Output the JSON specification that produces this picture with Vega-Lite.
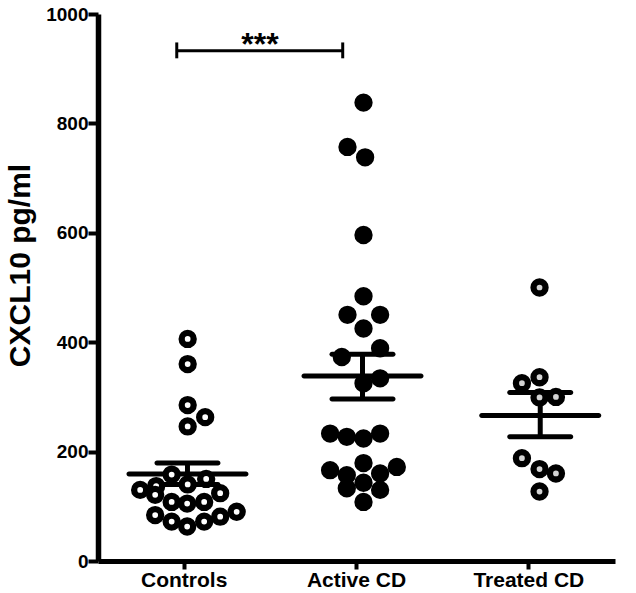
{
  "$schema": "https://vega.github.io/schema/vega-lite/v6.json",
  "width": 517,
  "height": 547,
  "autosize": "none",
  "padding": {"left": 98, "top": 14, "right": 21, "bottom": 32},
  "background": "white",
  "config": {
    "view": {"stroke": null},
    "font": "Liberation Sans",
    "axis": {
      "grid": false,
      "domainColor": "black",
      "tickColor": "black",
      "labelColor": "black",
      "titleColor": "black",
      "labelFont": "Liberation Sans",
      "titleFont": "Liberation Sans",
      "labelFontWeight": "bold",
      "titleFontWeight": "bold"
    }
  },
  "datasets": {
    "points": [
      {"group": "Controls", "value": 406, "jitter": 3.5},
      {"group": "Controls", "value": 360, "jitter": 3.5},
      {"group": "Controls", "value": 285, "jitter": 3.5},
      {"group": "Controls", "value": 263, "jitter": 21},
      {"group": "Controls", "value": 246, "jitter": 3.5},
      {"group": "Controls", "value": 158, "jitter": -12.5},
      {"group": "Controls", "value": 150, "jitter": 22},
      {"group": "Controls", "value": 140, "jitter": 3.5},
      {"group": "Controls", "value": 137, "jitter": -28},
      {"group": "Controls", "value": 130, "jitter": -44},
      {"group": "Controls", "value": 121, "jitter": -29},
      {"group": "Controls", "value": 108, "jitter": -12.5},
      {"group": "Controls", "value": 105, "jitter": 3},
      {"group": "Controls", "value": 108, "jitter": 20},
      {"group": "Controls", "value": 124, "jitter": 36},
      {"group": "Controls", "value": 84, "jitter": -29},
      {"group": "Controls", "value": 72, "jitter": -12.5},
      {"group": "Controls", "value": 63, "jitter": 3},
      {"group": "Controls", "value": 72, "jitter": 20},
      {"group": "Controls", "value": 81, "jitter": 36},
      {"group": "Controls", "value": 90, "jitter": 52.5},
      {"group": "Active CD", "value": 838, "jitter": 7},
      {"group": "Active CD", "value": 757, "jitter": -9},
      {"group": "Active CD", "value": 738, "jitter": 8.6},
      {"group": "Active CD", "value": 596, "jitter": 7},
      {"group": "Active CD", "value": 484, "jitter": 7},
      {"group": "Active CD", "value": 450, "jitter": -9},
      {"group": "Active CD", "value": 450, "jitter": 23.6},
      {"group": "Active CD", "value": 425, "jitter": 7},
      {"group": "Active CD", "value": 389, "jitter": 23.6},
      {"group": "Active CD", "value": 373, "jitter": -14.7},
      {"group": "Active CD", "value": 334, "jitter": 23.6},
      {"group": "Active CD", "value": 325, "jitter": 7},
      {"group": "Active CD", "value": 233, "jitter": -26.4},
      {"group": "Active CD", "value": 227, "jitter": -9.7},
      {"group": "Active CD", "value": 224, "jitter": 7},
      {"group": "Active CD", "value": 233, "jitter": 23.6},
      {"group": "Active CD", "value": 179, "jitter": 7},
      {"group": "Active CD", "value": 166, "jitter": -26.4},
      {"group": "Active CD", "value": 157, "jitter": -9.7},
      {"group": "Active CD", "value": 160, "jitter": 23.6},
      {"group": "Active CD", "value": 172, "jitter": 40.3},
      {"group": "Active CD", "value": 133, "jitter": -9.7},
      {"group": "Active CD", "value": 130, "jitter": 23.6},
      {"group": "Active CD", "value": 143, "jitter": 7},
      {"group": "Active CD", "value": 108, "jitter": 7},
      {"group": "Treated CD", "value": 500, "jitter": 10.7},
      {"group": "Treated CD", "value": 325, "jitter": -6.9},
      {"group": "Treated CD", "value": 336, "jitter": 10.7},
      {"group": "Treated CD", "value": 299, "jitter": 10.7},
      {"group": "Treated CD", "value": 300, "jitter": 27.1},
      {"group": "Treated CD", "value": 188, "jitter": -6.9},
      {"group": "Treated CD", "value": 168, "jitter": 10.7},
      {"group": "Treated CD", "value": 160, "jitter": 27.1},
      {"group": "Treated CD", "value": 127, "jitter": 10.7}
    ],
    "summary": [
      {"group": "Controls", "mean": 159, "lo": 140, "hi": 179, "jitter": 3.3},
      {"group": "Active CD", "mean": 338, "lo": 296, "hi": 378, "jitter": 6},
      {"group": "Treated CD", "mean": 266, "lo": 227, "hi": 308, "jitter": 11.4}
    ],
    "bracket": [
      {"from": "Controls", "to": "Active CD", "y": 933, "ylo": 919, "yhi": 948, "label": "***"}
    ]
  },
  "encoding": {
    "x": {
      "field": "group",
      "type": "nominal",
      "sort": ["Controls", "Active CD", "Treated CD"],
      "scale": {"type": "band", "domain": ["Controls", "Active CD", "Treated CD"], "paddingInner": 0, "paddingOuter": 0},
      "axis": {
        "title": null,
        "labelAngle": 0,
        "labelFontSize": 21,
        "labelPadding": 0,
        "tickSize": 8,
        "tickWidth": 4,
        "domainWidth": 5
      }
    }
  },
  "layer": [
    {
      "data": {"name": "summary"},
      "mark": {"type": "tick", "color": "black", "thickness": 5, "size": 122, "cornerRadius": 2.5, "opacity": 1},
      "encoding": {
        "xOffset": {"field": "jitter", "type": "quantitative", "scale": {"domain": [-100, 100], "range": [-13.83, 186.17]}},
        "y": {
          "field": "mean",
          "type": "quantitative",
          "scale": {"domain": [0, 1000], "nice": false, "zero": true},
          "axis": {
            "title": "CXCL10 pg/ml",
            "format": "d",
            "values": [0, 200, 400, 600, 800, 1000],
            "labelFontSize": 19,
            "titleFontSize": 30,
            "titlePadding": 10,
            "titleY": 251,
            "labelPadding": 0,
            "tickSize": 10,
            "tickWidth": 4,
            "domainWidth": 5.5
          }
        }
      }
    },
    {
      "data": {"name": "summary"},
      "mark": {"type": "tick", "color": "black", "thickness": 5, "size": 66, "cornerRadius": 2.5, "opacity": 1},
      "encoding": {
        "xOffset": {"field": "jitter", "type": "quantitative"},
        "y": {"field": "hi", "type": "quantitative"}
      }
    },
    {
      "data": {"name": "summary"},
      "mark": {"type": "tick", "color": "black", "thickness": 5, "size": 66, "cornerRadius": 2.5, "opacity": 1},
      "encoding": {
        "xOffset": {"field": "jitter", "type": "quantitative"},
        "y": {"field": "lo", "type": "quantitative"}
      }
    },
    {
      "data": {"name": "summary"},
      "mark": {"type": "rule", "color": "black", "strokeWidth": 5},
      "encoding": {
        "xOffset": {"field": "jitter", "type": "quantitative"},
        "y": {"field": "lo", "type": "quantitative"},
        "y2": {"field": "hi"}
      }
    },
    {
      "data": {"name": "points"},
      "mark": {"type": "point", "shape": "circle", "filled": false, "stroke": "black", "opacity": 1},
      "encoding": {
        "xOffset": {"field": "jitter", "type": "quantitative"},
        "y": {"field": "value", "type": "quantitative"},
        "fill": {
          "field": "group",
          "type": "nominal",
          "scale": {"domain": ["Controls", "Active CD", "Treated CD"], "range": ["white", "black", "#d4d4d4"]},
          "legend": null
        },
        "size": {
          "field": "group",
          "type": "nominal",
          "scale": {"domain": ["Controls", "Active CD", "Treated CD"], "range": [145, 145, 160]},
          "legend": null
        },
        "strokeWidth": {
          "field": "group",
          "type": "nominal",
          "scale": {"domain": ["Controls", "Active CD", "Treated CD"], "range": [6.3, 6.3, 5.5]},
          "legend": null
        }
      }
    },
    {
      "data": {"name": "bracket"},
      "mark": {"type": "rule", "color": "black", "strokeWidth": 3},
      "encoding": {
        "x": {"field": "from", "type": "nominal", "bandPosition": 0.457},
        "x2": {"field": "to", "bandPosition": 0.42},
        "y": {"field": "y", "type": "quantitative"}
      }
    },
    {
      "data": {"name": "bracket"},
      "mark": {"type": "rule", "color": "black", "strokeWidth": 3},
      "encoding": {
        "x": {"field": "from", "type": "nominal", "bandPosition": 0.457},
        "y": {"field": "ylo", "type": "quantitative"},
        "y2": {"field": "yhi"}
      }
    },
    {
      "data": {"name": "bracket"},
      "mark": {"type": "rule", "color": "black", "strokeWidth": 3},
      "encoding": {
        "x": {"field": "to", "type": "nominal", "bandPosition": 0.42},
        "y": {"field": "ylo", "type": "quantitative"},
        "y2": {"field": "yhi"}
      }
    },
    {
      "data": {"name": "bracket"},
      "mark": {"type": "text", "color": "black", "fontSize": 32, "fontWeight": "bold", "font": "Liberation Sans", "baseline": "alphabetic", "align": "center", "dy": 4},
      "encoding": {
        "x": {"field": "from", "type": "nominal", "bandPosition": 0.94},
        "y": {"field": "y", "type": "quantitative"},
        "text": {"field": "label"}
      }
    }
  ]
}
